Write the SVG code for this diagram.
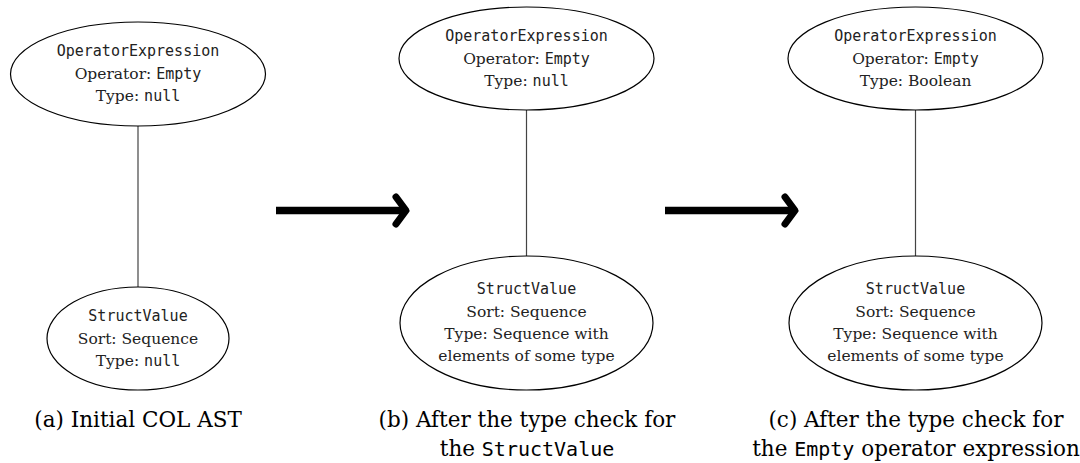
<svg xmlns="http://www.w3.org/2000/svg" width="1080" height="463" viewBox="0 0 1080 463">
<style>
.node{fill:none;stroke:#000;stroke-width:1.2}
.edge{stroke:#444;stroke-width:1.2;fill:none}
.shaft{stroke:#000;stroke-width:7.5;fill:none}
.head{stroke:#000;stroke-width:7;fill:none;stroke-linecap:round;stroke-linejoin:round}
.t{font-family:"DejaVu Serif","Liberation Serif",serif;font-size:15.5px;fill:#222;text-anchor:middle}
.m{font-family:"DejaVu Sans Mono","Liberation Mono",monospace;font-size:15px}
.cap{font-family:"DejaVu Serif","Liberation Serif",serif;font-size:21.5px;fill:#000;text-anchor:middle}
.cm{font-family:"DejaVu Sans Mono","Liberation Mono",monospace;font-size:20px}
</style>
<rect width="1080" height="463" fill="#fff"/>
<g id="connectors">
<line class="edge" x1="138" y1="126" x2="138" y2="287"/>
<line class="edge" x1="526.5" y1="110" x2="526.5" y2="256"/>
<line class="edge" x1="915.5" y1="110" x2="915.5" y2="256"/>
<line class="shaft" x1="276" y1="210.5" x2="403" y2="210.5"/>
<polyline class="head" points="396,197 406,210.5 396,224"/>
<line class="shaft" x1="665" y1="210.5" x2="792" y2="210.5"/>
<polyline class="head" points="785,197 795,210.5 785,224"/>
</g>
<g id="a-op">
<ellipse class="node" cx="138" cy="74" rx="127.5" ry="52"/>
<text class="t" x="138" y="56"><tspan class="m">OperatorExpression</tspan></text>
<text class="t" x="138" y="79">Operator: <tspan class="m">Empty</tspan></text>
<text class="t" x="138" y="101">Type: <tspan class="m">null</tspan></text>
</g>
<g id="a-sv">
<ellipse class="node" cx="138" cy="338.5" rx="91" ry="51.5"/>
<text class="t" x="138" y="321"><tspan class="m">StructValue</tspan></text>
<text class="t" x="138" y="343.5">Sort: Sequence</text>
<text class="t" x="138" y="366">Type: <tspan class="m">null</tspan></text>
</g>
<g id="b-op">
<ellipse class="node" cx="526.5" cy="58.5" rx="127.5" ry="51.5"/>
<text class="t" x="526.5" y="41"><tspan class="m">OperatorExpression</tspan></text>
<text class="t" x="526.5" y="63.5">Operator: <tspan class="m">Empty</tspan></text>
<text class="t" x="526.5" y="85.5">Type: <tspan class="m">null</tspan></text>
</g>
<g id="b-sv">
<ellipse class="node" cx="526.5" cy="323" rx="126.5" ry="67"/>
<text class="t" x="526.5" y="294"><tspan class="m">StructValue</tspan></text>
<text class="t" x="526.5" y="316.5">Sort: Sequence</text>
<text class="t" x="526.5" y="339">Type: Sequence with</text>
<text class="t" x="526.5" y="361">elements of some type</text>
</g>
<g id="c-op">
<ellipse class="node" cx="915.5" cy="58.5" rx="127.5" ry="51.5"/>
<text class="t" x="915.5" y="41"><tspan class="m">OperatorExpression</tspan></text>
<text class="t" x="915.5" y="63.5">Operator: <tspan class="m">Empty</tspan></text>
<text class="t" x="915.5" y="85.5">Type: Boolean</text>
</g>
<g id="c-sv">
<ellipse class="node" cx="915.5" cy="323" rx="126.5" ry="67"/>
<text class="t" x="915.5" y="294"><tspan class="m">StructValue</tspan></text>
<text class="t" x="915.5" y="316.5">Sort: Sequence</text>
<text class="t" x="915.5" y="339">Type: Sequence with</text>
<text class="t" x="915.5" y="361">elements of some type</text>
</g>
<g id="captions">
<text class="cap" x="138" y="427">(a) Initial COL AST</text>
<text class="cap" x="527" y="427">(b) After the type check for</text>
<text class="cap" x="527" y="456">the <tspan class="cm">StructValue</tspan></text>
<text class="cap" x="916" y="427">(c) After the type check for</text>
<text class="cap" x="916" y="456">the <tspan class="cm">Empty</tspan> operator expression</text>
</g>
</svg>
